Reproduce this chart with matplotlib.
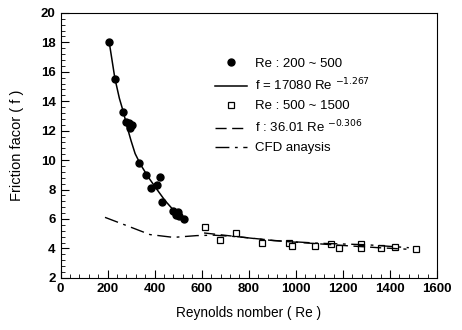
import matplotlib
matplotlib.use("Agg")
import matplotlib.pyplot as plt
from matplotlib.ticker import MultipleLocator

plt.rcParams['font.family'] = ['Liberation Sans', 'DejaVu Sans']

# measured points, Re 200 ~ 500
re_low = [207, 231, 267, 277, 291, 302, 295, 334, 363, 385, 411, 423, 430, 480, 501, 489, 505, 525]
f_low = [18.0, 15.5, 13.3, 12.6, 12.5, 12.36, 12.2, 9.82, 9.0, 8.09, 8.32, 8.84, 7.14, 6.57, 6.5, 6.28, 6.21, 6.0]

# fitted curve f = 17080 Re^-1.267
re_fit1 = [207, 231, 250, 267, 283, 300, 317, 340, 373, 410, 444, 480, 515, 525]
f_fit1 = [18.0, 15.55, 14.2, 13.27, 12.25, 11.3, 10.44, 9.7, 8.84, 8.0, 7.25, 6.6, 6.05, 5.95]

# measured points, Re 500 ~ 1500
re_high = [612, 678, 745, 858, 972, 984, 1083, 1151, 1182, 1278, 1278, 1363, 1423, 1511]
f_high = [5.43, 4.57, 5.05, 4.37, 4.37, 4.19, 4.16, 4.27, 4.03, 4.3, 4.03, 4.0, 4.07, 3.96]

# fitted curve f = 36.01 Re^-0.306
re_fit2 = [610, 750, 900, 1000, 1200, 1350, 1470]
f_fit2 = [5.05, 4.8, 4.55, 4.42, 4.2, 4.05, 3.95]

# CFD analysis
re_cfd = [189, 281, 380, 480, 579, 650, 749, 905, 1100, 1300, 1480]
f_cfd = [6.11, 5.55, 4.94, 4.75, 4.87, 4.9, 4.8, 4.53, 4.35, 4.25, 4.05]

fig = plt.figure(figsize=(4.62, 3.30), dpi=100)
ax = fig.add_axes([0.131, 0.158, 0.815, 0.803])

ax.plot(re_low, f_low, 'o', color='black', markersize=5, label='Re : 200 ~ 500')
ax.plot(re_fit1, f_fit1, '-', color='black', lw=1.1, label='f = 17080 Re $^{-1.267}$')
ax.plot(re_high, f_high, 's', mfc='white', mec='black', mew=0.9, markersize=5, label='Re : 500 ~ 1500')
ax.plot(re_fit2, f_fit2, '--', color='black', lw=1.0, dashes=(8, 4), label='f : 36.01 Re $^{-0.306}$')
ax.plot(re_cfd, f_cfd, '-.', color='black', lw=1.0, dashes=(10, 4, 2, 4), label='CFD anaysis')

ax.set_xlim(0, 1600)
ax.set_ylim(2, 20)
ax.xaxis.set_major_locator(MultipleLocator(200))
ax.xaxis.set_minor_locator(MultipleLocator(40))
ax.yaxis.set_major_locator(MultipleLocator(2))
ax.yaxis.set_minor_locator(MultipleLocator(0.4))
ax.tick_params(which='both', direction='in', top=False, right=False, labelsize=9.5)
ax.tick_params(which='major', length=6)
ax.tick_params(which='minor', length=3)
for lab in ax.get_xticklabels() + ax.get_yticklabels():
    lab.set_fontweight('bold')

ax.set_xlabel('Reynolds nomber ( Re )', fontsize=9.8, labelpad=8)
ax.set_ylabel('Friction facor ( f )', fontsize=10.5, labelpad=12)

ax.legend(loc='upper left', bbox_to_anchor=(0.38, 0.875), frameon=False, fontsize=9.5,
          handlelength=2.4, labelspacing=0.5, handletextpad=0.6)

fig.savefig('out.png', dpi=100)
